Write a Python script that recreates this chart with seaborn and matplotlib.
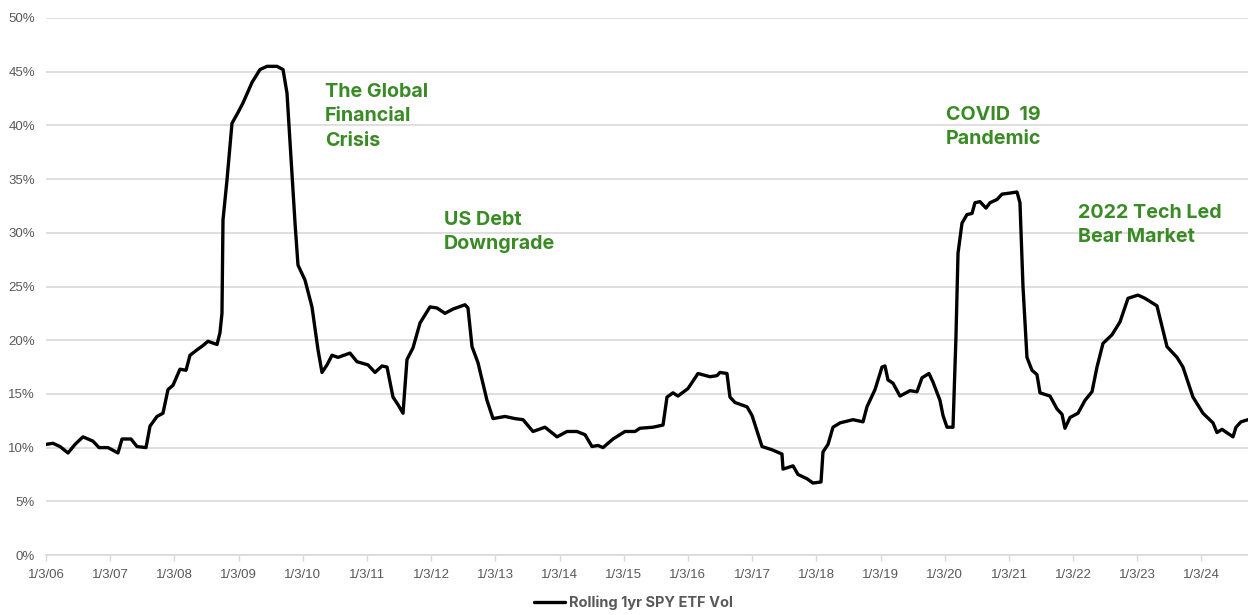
import matplotlib
matplotlib.use("Agg")
import matplotlib.pyplot as plt
import seaborn as sns
import pandas as pd
import numpy as np

# ---- data (years since 1/3/06, volatility in %) ----
years_since_start = [
    0.000, 0.109, 0.218, 0.343, 0.452, 0.576, 0.732, 0.826, 0.966, 1.121,
    1.184, 1.324, 1.417, 1.558, 1.620, 1.729, 1.822, 1.900, 1.978, 2.087,
    2.181, 2.243, 2.352, 2.445, 2.523, 2.664, 2.710, 2.741, 2.757, 2.819,
    2.897, 2.991, 3.069, 3.209, 3.333, 3.442, 3.598, 3.692, 3.754, 3.801,
    3.879, 3.925, 4.034, 4.143, 4.237, 4.299, 4.377, 4.455, 4.548, 4.735,
    4.844, 5.016, 5.125, 5.234, 5.312, 5.405, 5.483, 5.561, 5.623, 5.717,
    5.826, 5.981, 6.090, 6.215, 6.340, 6.526, 6.573, 6.636, 6.729, 6.869,
    6.963, 7.150, 7.305, 7.430, 7.586, 7.773, 7.960, 8.115, 8.271, 8.396,
    8.505, 8.598, 8.676, 8.832, 9.019, 9.174, 9.252, 9.455, 9.611, 9.673,
    9.766, 9.844, 10.000, 10.156, 10.343, 10.452, 10.498, 10.607, 10.654, 10.732,
    10.919, 10.997, 11.153, 11.308, 11.464, 11.480, 11.636, 11.713, 11.854, 11.947,
    12.072, 12.103, 12.181, 12.259, 12.368, 12.570, 12.726, 12.788, 12.913, 13.022,
    13.069, 13.115, 13.193, 13.302, 13.458, 13.567, 13.645, 13.754, 13.816, 13.925,
    13.972, 14.034, 14.128, 14.174, 14.206, 14.268, 14.346, 14.424, 14.470, 14.548,
    14.642, 14.704, 14.813, 14.891, 15.016, 15.125, 15.171, 15.218, 15.280, 15.358,
    15.436, 15.483, 15.639, 15.748, 15.826, 15.872, 15.950, 16.075, 16.184, 16.293,
    16.371, 16.464, 16.604, 16.729, 16.854, 17.009, 17.118, 17.305, 17.461, 17.617,
    17.710, 17.866, 18.022, 18.178, 18.240, 18.318, 18.489, 18.536, 18.614, 18.723,
]
vol_pct = [
    10.3, 10.4, 10.1, 9.5, 10.3, 11.0, 10.6, 10.0, 10.0, 9.5,
    10.8, 10.8, 10.1, 10.0, 12.0, 12.9, 13.2, 15.4, 15.8, 17.3,
    17.2, 18.6, 19.1, 19.5, 19.9, 19.6, 20.7, 22.5, 31.2, 34.9,
    40.2, 41.2, 42.1, 44.0, 45.2, 45.5, 45.5, 45.2, 43.0, 38.4,
    30.9, 27.0, 25.6, 23.1, 19.1, 17.0, 17.7, 18.6, 18.4, 18.8,
    18.0, 17.7, 17.0, 17.6, 17.5, 14.7, 14.0, 13.2, 18.2, 19.3,
    21.6, 23.1, 23.0, 22.5, 22.9, 23.3, 23.0, 19.4, 17.9, 14.4,
    12.7, 12.9, 12.7, 12.6, 11.5, 11.9, 11.0, 11.5, 11.5, 11.2,
    10.1, 10.2, 10.0, 10.8, 11.5, 11.5, 11.8, 11.9, 12.1, 14.7,
    15.1, 14.8, 15.5, 16.9, 16.6, 16.7, 17.0, 16.9, 14.7, 14.2,
    13.8, 13.0, 10.1, 9.8, 9.4, 8.0, 8.3, 7.5, 7.1, 6.7,
    6.8, 9.6, 10.3, 11.9, 12.3, 12.6, 12.4, 13.8, 15.4, 17.5,
    17.6, 16.3, 16.0, 14.8, 15.3, 15.2, 16.5, 16.9, 16.1, 14.4,
    13.0, 11.9, 11.9, 20.3, 28.1, 30.9, 31.7, 31.8, 32.8, 32.9,
    32.3, 32.8, 33.1, 33.6, 33.7, 33.8, 32.8, 25.0, 18.4, 17.2,
    16.8, 15.1, 14.8, 13.6, 13.1, 11.8, 12.8, 13.2, 14.4, 15.2,
    17.5, 19.7, 20.5, 21.7, 23.9, 24.2, 23.9, 23.2, 19.4, 18.4,
    17.5, 14.7, 13.2, 12.3, 11.4, 11.7, 11.0, 11.9, 12.4, 12.6,
]
tick_years = list(range(2006, 2025))
tick_labels = [f"1/3/{y % 100:02d}" for y in tick_years]
series_name = "Rolling 1yr SPY ETF Vol"
annotations = [
    ("The Global\nFinancial\nCrisis", 325, 83),
    ("US Debt\nDowngrade", 444, 211),
    ("COVID  19\nPandemic", 946, 106),
    ("2022 Tech Led\nBear Market", 1078, 204),
]

start = pd.Timestamp("2006-01-03")
dates = [start + pd.to_timedelta(t * 365.25, unit="D") for t in years_since_start]
df = pd.DataFrame({"date": dates, "vol": vol_pct})

sns.set_theme(style="white")
plt.rcParams["font.family"] = ["Liberation Sans", "DejaVu Sans"]

W, H = 1248, 615
fig = plt.figure(figsize=(W / 100, H / 100), dpi=100)
ax_l, ax_r, ax_b, ax_t = 46, 1248, 555, 18
ax = fig.add_axes([ax_l / W, 1 - ax_b / H, (ax_r - ax_l) / W, (ax_b - ax_t) / H])

sns.lineplot(data=df, x="date", y="vol", ax=ax, color="black", linewidth=2.4,
             label=series_name)

ax.set_ylim(0, 50)
ax.set_xlim(dates[0], dates[-1])
ax.set_yticks(np.arange(0, 51, 5))
ax.set_yticklabels([f"{v}%" for v in range(0, 51, 5)])
ax.set_xticks([pd.Timestamp(f"{y}-01-03") for y in tick_years])
ax.set_xticklabels(tick_labels)
ax.grid(axis="y", color="#d9d9d9", linewidth=1.2)
ax.grid(axis="x", visible=False)
ax.set_axisbelow(True)
for s in ["top", "right", "left"]:
    ax.spines[s].set_visible(False)
ax.spines["bottom"].set_color("#d9d9d9")
ax.spines["bottom"].set_linewidth(1.2)
ax.tick_params(axis="y", length=0, pad=8, labelsize=9.5, labelcolor="#595959")
ax.tick_params(axis="x", length=4, width=1.0, color="#d9d9d9", pad=6,
               labelsize=9.5, labelcolor="#595959", bottom=True)
ax.set_xlabel("")
ax.set_ylabel("")

green = "#3a8a26"
for txt, px, py in annotations:
    ax.text((px - ax_l) / (ax_r - ax_l), (ax_b - py) / (ax_b - ax_t), txt,
            transform=ax.transAxes, ha="left", va="top", color=green,
            fontsize=14.2, fontweight="bold", linespacing=1.45,
            family=["Inter", "Liberation Sans", "DejaVu Sans"])

ax.get_legend().remove()
handles, labels = ax.get_legend_handles_labels()
leg = fig.legend(handles, labels, loc="center", bbox_to_anchor=(0.508, 0.02),
                 frameon=False, handlelength=2.1, handletextpad=0.3,
                 prop={"weight": "bold", "size": 10.5,
                       "family": ["Inter", "Liberation Sans", "DejaVu Sans"]})
for t in leg.get_texts():
    t.set_color("#595959")

fig.savefig("out.png", dpi=100)
